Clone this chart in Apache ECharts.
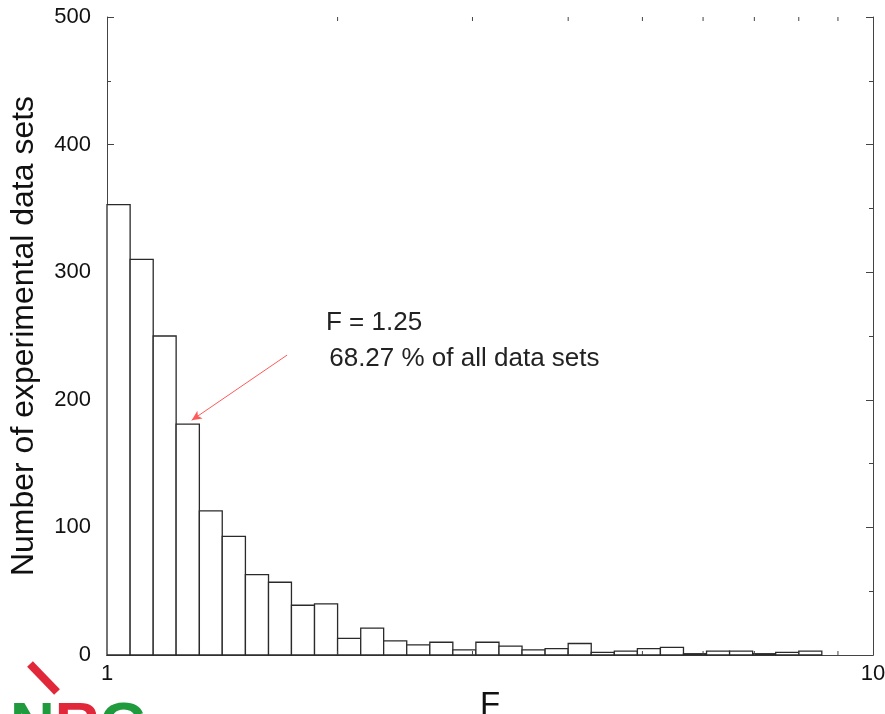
<!DOCTYPE html>
<html>
<head>
<meta charset="utf-8">
<script src="https://cdn.jsdelivr.net/npm/echarts@6/dist/echarts.min.js"></script>
<style>
html,body{margin:0;padding:0;background:#fff;}
#chart{width:885px;height:714px;}
</style>
</head>
<body>
<div id="chart"></div>
<script>
// Histogram bin edges (F, logarithmic bins)
const binEdges = [1, 1.072, 1.149, 1.231, 1.320, 1.414, 1.516, 1.625, 1.741, 1.866,
  2.000, 2.144, 2.297, 2.462, 2.639, 2.828, 3.031, 3.249, 3.482, 3.732,
  4.000, 4.287, 4.595, 4.925, 5.278, 5.657, 6.063, 6.498, 6.964, 7.464,
  8.000, 8.574];
// Number of experimental data sets per bin
const counts = [353, 310, 250, 181, 113, 93, 63, 57, 39, 40,
  13, 21, 11, 8, 10, 4, 10, 7, 4, 5,
  9, 2, 3, 5, 6, 1, 3, 3, 1, 2, 3];
// Minor tick positions on the log x axis
const minorXTicks = [2, 3, 4, 5, 6, 7, 8, 9];
// Annotation
const annotationLines = ['F = 1.25', ' 68.27 % of all data sets'];
const arrowFrom = [1.718, 235];
const arrowTo = [1.290, 184];

const FONT = '"Liberation Sans", Arial, Helvetica, sans-serif';
const histData = counts.map((c, i) => [binEdges[i], binEdges[i + 1], c]);

const chart = echarts.init(document.getElementById('chart'), null, {renderer: 'canvas'});
const axisLineStyle = {color: '#444', width: 1};

chart.setOption({
  backgroundColor: '#fff',
  animation: false,
  grid: {left: 107, right: 12, top: 17, bottom: 59, containLabel: false, outerBoundsMode: 'none'},
  xAxis: [{
    type: 'log', logBase: 10, min: 1, max: 10, position: 'bottom',
    name: 'F', nameLocation: 'middle', nameGap: 22,
    nameTextStyle: {fontFamily: FONT, fontSize: 33, color: '#111'},
    axisLine: {show: true, lineStyle: axisLineStyle},
    axisTick: {show: false},
    splitLine: {show: false},
    axisLabel: {fontFamily: FONT, fontSize: 22, color: '#111', margin: 8}
  }, {
    type: 'log', logBase: 10, min: 1, max: 10, position: 'top',
    axisLine: {show: true, lineStyle: axisLineStyle},
    axisTick: {show: false}, axisLabel: {show: false}, splitLine: {show: false}
  }],
  yAxis: [{
    type: 'value', min: 0, max: 500, interval: 100, position: 'left',
    name: 'Number of experimental data sets', nameLocation: 'middle', nameRotate: 90, nameGap: 67,
    nameTextStyle: {fontFamily: FONT, fontSize: 32, color: '#111'},
    axisLine: {show: true, lineStyle: axisLineStyle},
    axisTick: {show: true, inside: true, length: 7, lineStyle: axisLineStyle},
    minorTick: {show: true, splitNumber: 2, length: 4, lineStyle: axisLineStyle},
    splitLine: {show: false},
    axisLabel: {fontFamily: FONT, fontSize: 22, color: '#111', margin: 16}
  }, {
    type: 'value', min: 0, max: 500, interval: 100, position: 'right',
    axisLine: {show: true, lineStyle: axisLineStyle},
    axisTick: {show: true, inside: true, length: 7, lineStyle: axisLineStyle},
    minorTick: {show: true, splitNumber: 2, length: 4, lineStyle: axisLineStyle},
    splitLine: {show: false},
    axisLabel: {show: false}
  }],
  series: [{
    type: 'custom',
    xAxisIndex: 0, yAxisIndex: 0,
    data: histData,
    renderItem: function (params, api) {
      const p1 = api.coord([api.value(0), api.value(2)]);
      const p0 = api.coord([api.value(1), 0]);
      return {
        type: 'rect',
        shape: {x: p1[0], y: p1[1], width: p0[0] - p1[0], height: p0[1] - p1[1]},
        style: {fill: '#fff', stroke: '#2a2a2a', lineWidth: 1.3}
      };
    },
    markLine: {
      silent: true,
      symbol: ['none', 'arrow'],
      symbolSize: [7, 10],
      label: {show: false},
      lineStyle: {color: '#ff5a5a', width: 1, type: 'solid'},
      data: [[{coord: arrowFrom}, {coord: arrowTo}]]
    }
  }, {
    type: 'custom',
    xAxisIndex: 0, yAxisIndex: 0,
    data: minorXTicks,
    renderItem: function (params, api) {
      const b = api.coord([api.value(0), 0]);
      const t = api.coord([api.value(0), 500]);
      return {
        type: 'group',
        children: [
          {type: 'line', shape: {x1: b[0], y1: b[1], x2: b[0], y2: b[1] - 4}, style: {stroke: '#444', lineWidth: 1}},
          {type: 'line', shape: {x1: t[0], y1: t[1], x2: t[0], y2: t[1] + 4}, style: {stroke: '#444', lineWidth: 1}}
        ]
      };
    },
    z: 5
  }],
  graphic: [{
    type: 'text', left: 326, top: 310,
    style: {text: annotationLines[0], fontFamily: FONT, fontSize: 26, fill: '#222'}
  }, {
    type: 'text', left: 322, top: 346,
    style: {text: annotationLines[1], fontFamily: FONT, fontSize: 26, fill: '#222'}
  }, {
    type: 'line', shape: {x1: 30, y1: 664, x2: 57, y2: 692},
    style: {stroke: '#e0283a', lineWidth: 8}
  }, {
    type: 'text', left: 10, top: 697,
    style: {
      text: '{g|N}{r|R}{g|G}',
      rich: {
        g: {fontFamily: FONT, fontWeight: 'bold', fontSize: 62, fill: '#1f9a3c'},
        r: {fontFamily: FONT, fontWeight: 'bold', fontSize: 62, fill: '#e0283a'}
      }
    }
  }]
});
</script>
</body>
</html>
